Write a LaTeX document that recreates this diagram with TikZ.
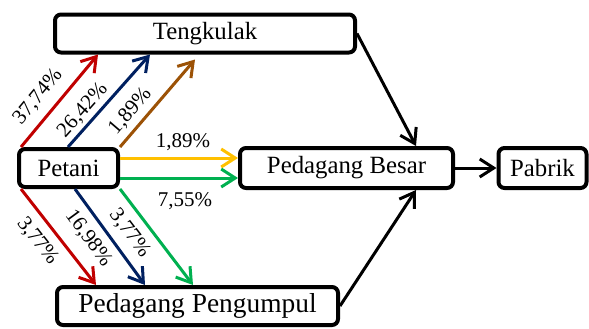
\documentclass[tikz,border=0pt]{standalone}
\usepackage{fontspec}
\setmainfont{Liberation Serif}
\usepackage{tikz}
\usetikzlibrary{arrows.meta}

\definecolor{jalurmerah}{RGB}{192,0,0}
\definecolor{jalurbiru}{RGB}{0,32,96}
\definecolor{jalurcoklat}{RGB}{156,82,6}
\definecolor{jalurkuning}{RGB}{255,192,0}
\definecolor{jalurhijau}{RGB}{0,176,80}

\tikzset{
    lembaga/.style={draw, line width=2pt, rounded corners=3pt, inner sep=0pt,
        minimum height=19pt, font=\fontsize{12.4}{14}\selectfont},
    alur/.style={line width=1.5pt, -{Straight Barb[length=7pt,width=9pt]}},
    persen/.style={font=\fontsize{10.5}{12}\selectfont, inner sep=1.5pt, text=black}
}

\begin{document}
\begin{tikzpicture}[x=0.5pt, y=-0.5pt]
        \useasboundingbox (0,0) rectangle (589,328);
        \node[lembaga, minimum width=150pt] (tengkulak) at (205,33.5) {Tengkulak};
        \node[lembaga, minimum width=49.5pt] (petani) at (68.5,168) {Petani};
        \node[lembaga, minimum width=106.5pt, minimum height=20pt] (besar) at (346.5,168) {Pedagang Besar};
        \node[lembaga, minimum width=44pt, minimum height=20pt] (pabrik) at (542.5,168) {Pabrik};
        \node[lembaga, minimum width=140.5pt, font=\fontsize{13.7}{15}\selectfont] (pengumpul) at (197.5,306) {Pedagang Pengumpul};

        \draw[alur, jalurmerah] ([xshift=2pt]petani.north west) -- ([xshift=22.5pt]tengkulak.south west)
            node[pos=0.41, sloped, above=3pt, persen] {37,74\%};
        \draw[alur, jalurbiru] ([xshift=25.5pt]petani.north west) -- ([xshift=48.5pt]tengkulak.south west)
            node[pos=0.3, sloped, above, persen] {26,42\%};
        \draw[alur, jalurcoklat] (petani.north east) -- ([xshift=71pt, yshift=-2.5pt]tengkulak.south west)
            node[pos=0.29, sloped, above=1pt, persen] {1,89\%};

        \draw[alur, jalurkuning] ([yshift=5pt]petani.east) -- ([yshift=5pt]besar.west)
            node[midway, above=1.5pt, xshift=2pt, persen] {1,89\%};
        \draw[alur, jalurhijau] ([yshift=-5pt]petani.east) -- ([yshift=-5pt]besar.west)
            node[midway, below=5pt, xshift=3pt, persen] {7,55\%};

        \draw[alur, jalurmerah] ([xshift=2pt]petani.south west) -- ([xshift=20.5pt]pengumpul.north west)
            node[pos=0.42, sloped, below=3pt, persen] {3,77\%};
        \draw[alur, jalurbiru] ([xshift=29pt]petani.south west) -- ([xshift=45pt]pengumpul.north west)
            node[pos=0.4, sloped, below=2.5pt, persen] {16,98\%};
        \draw[alur, jalurhijau] (petani.south east) -- ([xshift=69pt]pengumpul.north west)
            node[pos=0.34, sloped, below=3pt, persen] {3,77\%};

        \draw[alur] (tengkulak.east) -- ([xshift=89pt]besar.north west);
        \draw[alur] (pengumpul.east) -- ([xshift=89pt]besar.south west);
        \draw[alur] (besar.east) -- (pabrik.west);
    \end{tikzpicture}
\end{document}
